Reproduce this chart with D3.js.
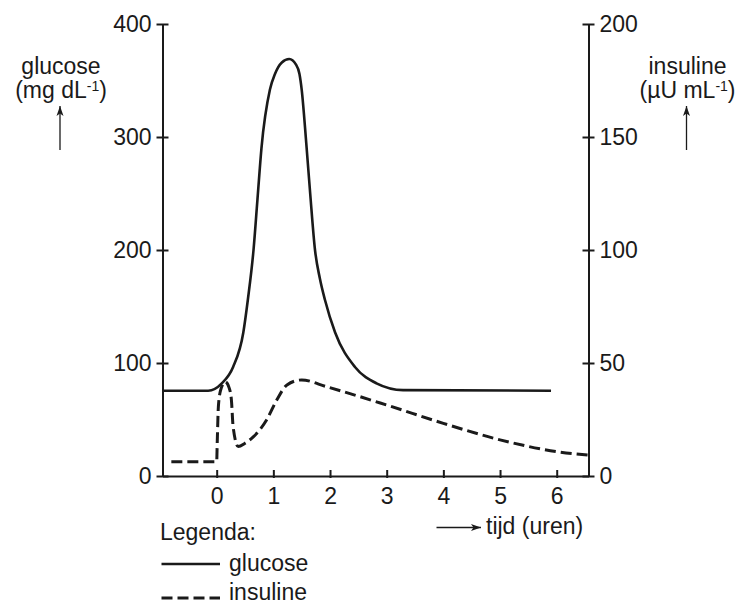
<!DOCTYPE html>
<html>
<head>
<meta charset="utf-8">
<script src="https://cdn.jsdelivr.net/npm/d3@7"></script>
<style>
	body { margin: 0; background: #fff; }
	svg { font-family: "Liberation Sans", Arial, sans-serif; }
	.axis path, .axis line { stroke: #1a1a1a; stroke-width: 2; }
	.axis text { font-size: 23px; fill: #1a1a1a; }
</style>
</head>
<body>
<div id="chart"></div>
<script>
// glucose (mg/dL) en insuline (µU/mL) tegen tijd in uren
var glucoseTime = [-0.956, -0.15, 0.09, 0.29, 0.47, 0.55, 0.65, 0.72, 0.79, 0.94, 1.03, 1.15, 1.28, 1.40, 1.46, 1.5, 1.58, 1.65, 1.735, 1.82, 1.91, 2.09, 2.44, 2.82, 3.29, 5.9];
var glucoseValues = [75.5, 75.5, 82, 96.5, 127, 156, 200, 245, 290, 342, 356, 366, 369, 364, 356, 342, 295, 250, 200, 175, 156, 127, 96.5, 82, 76, 75.5];
var insulineTime = [-0.8, 0.0, 0.01, 0.03, 0.07, 0.15, 0.22, 0.26, 0.29, 0.38, 0.5, 0.65, 0.88, 1.06, 1.24, 1.5, 1.94, 3, 4, 5, 6, 6.55];
var insulineValues = [6.3, 6.3, 15, 30.7, 38, 41.7, 39, 33.6, 21.8, 13, 14.5, 17.4, 24.8, 33.6, 40.3, 42.5, 39.5, 31.4, 23.3, 16, 10.8, 9.3];
var xTicks = [0, 1, 2, 3, 4, 5, 6];
var leftTicks = [0, 100, 200, 300, 400];
var rightTicks = [0, 50, 100, 150, 200];

var width = 742, height = 605;
var svg = d3.select("#chart").append("svg").attr("width", width).attr("height", height);

var x = d3.scaleLinear().domain([-0.956, 6.561]).range([162.5, 588.5]);
var yG = d3.scaleLinear().domain([0, 400]).range([476, 24]);
var yI = d3.scaleLinear().domain([0, 200]).range([476, 24]);

// arrow head marker
svg.append("defs").append("marker").attr("id", "arr").attr("viewBox", "0 0 10 10")
	.attr("refX", 10).attr("refY", 5).attr("markerWidth", 10).attr("markerHeight", 10)
	.attr("markerUnits", "userSpaceOnUse").attr("orient", "auto")
	.append("path").attr("d", "M0,1.5 L10,5 L0,8.5 L2.5,5 Z").attr("fill", "#1a1a1a");

// axes
var xAxis = svg.append("g").attr("class", "axis").attr("transform", "translate(0,476)")
	.call(d3.axisBottom(x).tickValues(xTicks).tickSizeInner(-6).tickSizeOuter(0).tickPadding(12));
xAxis.selectAll(".tick line").attr("y2", -6).attr("y1", 2);
xAxis.selectAll(".tick text").attr("dy", "0.71em");

var leftAxis = svg.append("g").attr("class", "axis").attr("transform", "translate(162.5,0)")
	.call(d3.axisLeft(yG).tickValues(leftTicks).tickSizeInner(6).tickSizeOuter(0).tickPadding(5));
leftAxis.selectAll(".tick line").attr("x1", 6);

var rightAxis = svg.append("g").attr("class", "axis").attr("transform", "translate(588.5,0)")
	.call(d3.axisRight(yI).tickValues(rightTicks).tickSizeInner(6).tickSizeOuter(0).tickPadding(5));
rightAxis.selectAll(".tick line").attr("x1", -6);

// curves
var glucoseLine = d3.line().x(function(d, i) { return x(glucoseTime[i]); })
	.y(function(d) { return yG(d); }).curve(d3.curveMonotoneX);
var insulineLine = d3.line().x(function(d, i) { return x(insulineTime[i]); })
	.y(function(d) { return yI(d); }).curve(d3.curveMonotoneX);

svg.append("path").attr("d", glucoseLine(glucoseValues)).attr("fill", "none")
	.attr("stroke", "#1a1a1a").attr("stroke-width", 2.6);
svg.append("path").attr("d", insulineLine(insulineValues)).attr("fill", "none")
	.attr("stroke", "#1a1a1a").attr("stroke-width", 3).attr("stroke-dasharray", "11,5");

// axis titles
function title(cx, name, unit) {
	svg.append("text").attr("x", cx).attr("y", 74).attr("text-anchor", "middle")
		.attr("font-size", 23).attr("fill", "#1a1a1a").text(name);
	var u = svg.append("text").attr("x", cx).attr("y", 98).attr("text-anchor", "middle")
		.attr("font-size", 23).attr("fill", "#1a1a1a");
	u.append("tspan").text(unit);
	u.append("tspan").attr("font-size", 14).attr("dy", -7).text("-1");
	u.append("tspan").attr("dy", 7).text(")");
	svg.append("line").attr("x1", cx - 1).attr("x2", cx - 1).attr("y1", 150).attr("y2", 106)
		.attr("stroke", "#1a1a1a").attr("stroke-width", 1.3).attr("marker-end", "url(#arr)");
}
title(61, "glucose", "(mg dL");
title(687.5, "insuline", "(\u00b5U mL");

// tijd label
svg.append("line").attr("x1", 436.5).attr("x2", 481).attr("y1", 527.5).attr("y2", 527.5)
	.attr("stroke", "#1a1a1a").attr("stroke-width", 1.3).attr("marker-end", "url(#arr)");
svg.append("text").attr("x", 486).attr("y", 534).attr("font-size", 23).attr("fill", "#1a1a1a").text("tijd (uren)");

// legend
svg.append("text").attr("x", 160).attr("y", 540).attr("font-size", 23).attr("fill", "#1a1a1a").text("Legenda:");
svg.append("line").attr("x1", 161.5).attr("x2", 220).attr("y1", 564).attr("y2", 564)
	.attr("stroke", "#1a1a1a").attr("stroke-width", 2.6);
svg.append("text").attr("x", 229).attr("y", 571).attr("font-size", 23).attr("fill", "#1a1a1a").text("glucose");
svg.append("line").attr("x1", 161.5).attr("x2", 220).attr("y1", 598).attr("y2", 598)
	.attr("stroke", "#1a1a1a").attr("stroke-width", 3).attr("stroke-dasharray", "11,5");
svg.append("text").attr("x", 229).attr("y", 600).attr("font-size", 23).attr("fill", "#1a1a1a").text("insuline");
</script>
</body>
</html>
